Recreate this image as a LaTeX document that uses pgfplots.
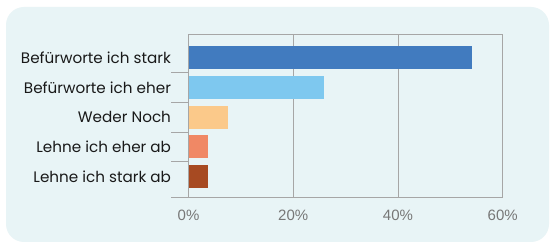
\documentclass[border=0pt]{standalone}
\usepackage{pgfplots}
\pgfplotsset{compat=1.18}
\usepackage{fontspec}
\setmainfont{Poppins}
\newfontfamily\tickfont{Liberation Sans}
\definecolor{bgc}{HTML}{E8F4F6}
\definecolor{gridc}{HTML}{A6A6A6}
\definecolor{cA}{HTML}{417BBF}
\definecolor{cB}{HTML}{7EC8EF}
\definecolor{cC}{HTML}{FBC98A}
\definecolor{cD}{HTML}{F08865}
\definecolor{cE}{HTML}{A74A22}
\definecolor{ticktext}{HTML}{777777}
\begin{document}
\begin{tikzpicture}[x=1pt,y=1pt]
\useasboundingbox (0,0) rectangle (551,243);
\fill[white] (0,0) rectangle (551,243);
\fill[bgc, rounded corners=18pt] (6,1) rectangle (549,236);
\begin{axis}[
  at={(188.5pt,45.7pt)}, anchor=south west,
  scale only axis, width=314.2pt, height=163.3pt,
  xbar, bar width=23pt,
  xmin=0, xmax=60, ymin=-0.7, ymax=4.8,
  xtick={0,20,40,60},
  xticklabels={0\%,20\%,40\%,60\%},
  xmajorgrids, grid style={gridc, line width=0.8pt},
  axis line style={gridc, line width=0.8pt},
  xtick style={draw=none},
  ytick={0,1,2,3,4},
  yticklabels={Lehne ich stark ab,Lehne ich eher ab,Weder Noch,Befürworte ich eher,Befürworte ich stark},
  ytick style={draw=none},
  major tick length=0pt,
  yticklabel style={font=\fontsize{15.2}{17}\selectfont, text=black!90, xshift=-14pt},
  xticklabel style={font=\tickfont\fontsize{15}{17}\selectfont, text=ticktext, yshift=-9pt},
  /pgf/number format/assume math mode=true,
]
\addplot[draw=none, fill=cA, bar shift=0pt] coordinates {(54.2,4)};
\addplot[draw=none, fill=cB, bar shift=0pt] coordinates {(25.9,3)};
\addplot[draw=none, fill=cC, bar shift=0pt] coordinates {(7.5,2)};
\addplot[draw=none, fill=cD, bar shift=0pt] coordinates {(3.7,1)};
\addplot[draw=none, fill=cE, bar shift=0pt] coordinates {(3.7,0)};
\end{axis}
\foreach \yy in {45.7,81.3,111.0,140.7,170.4}{
  \draw[gridc, line width=0.8pt] (171,\yy) -- (188.5,\yy);
}
\end{tikzpicture}
\end{document}
